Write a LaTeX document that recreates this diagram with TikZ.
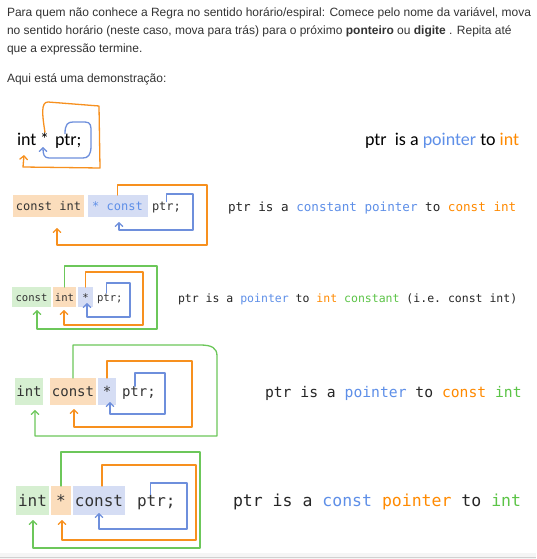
\documentclass[tikz,border=0pt]{standalone}
\usepackage{fontspec}
\setmainfont{Liberation Sans}
\setmonofont{DejaVu Sans Mono}
\newfontfamily\calibri{Carlito}
\usetikzlibrary{arrows.meta}

\definecolor{ink}{HTML}{333333}
\definecolor{oline}{HTML}{F7901E}
\definecolor{bline}{HTML}{6E8FDC}
\definecolor{gline}{HTML}{6CC75A}
\definecolor{ofill}{HTML}{FBDDBC}
\definecolor{bfill}{HTML}{D5DDF4}
\definecolor{gfill}{HTML}{D6EFD1}
\definecolor{otext}{HTML}{FF8A00}
\definecolor{btext}{HTML}{5E8FE8}
\definecolor{gtext}{HTML}{5CC447}

\newcommand{\ocol}[1]{\textcolor{otext}{#1}}
\newcommand{\bcol}[1]{\textcolor{btext}{#1}}
\newcommand{\gcol}[1]{\textcolor{gtext}{#1}}

\begin{document}
\begin{tikzpicture}[x=1pt,y=-1pt,
  every node/.style={inner sep=0pt,outer sep=0pt,text=ink},
  para/.style={anchor=base west,font=\fontsize{12}{14}\selectfont},
  wire/.style={line width=1.3pt,line cap=round,line join=round,
    -{Straight Barb[length=3.5pt,width=7.5pt,line cap=round]}},
  ow/.style={wire,draw=oline},
  bw/.style={wire,draw=bline},
  gw/.style={wire,draw=gline},
  ob/.style={fill=ofill},
  bb/.style={fill=bfill},
  gb/.style={fill=gfill},
  sans1/.style={anchor=base west,font=\calibri\fontsize{18}{20}\selectfont,text=black},
  c2/.style={font=\ttfamily\fontsize{12}{14}\selectfont,text height=9pt,text depth=0pt},
  c3/.style={font=\ttfamily\fontsize{10.6}{12}\selectfont,text height=8pt,text depth=0pt},
  c4/.style={font=\ttfamily\fontsize{14}{16}\selectfont,text height=10.5pt,text depth=0pt},
  c5/.style={font=\ttfamily\fontsize{16}{18}\selectfont,text height=12pt,text depth=0pt},
  desc/.style={anchor=base west,text=black!85}
]
\useasboundingbox (0,0) rectangle (536,559);
\fill[white] (0,0) rectangle (536,559);
\fill[black!4] (0,553) rectangle (536,559);
\draw[black!18,line width=1pt] (0,557.5) -- (536,557.5);

% introductory paragraph
\node[para] (l1) at (7,17) {Para quem não conhece a Regra no sentido horário/espiral: Comece pelo nome da variável, mova};
\node[para] (l2) at (7,35) {no sentido horário (neste caso, mova para trás) para o próximo \textbf{ponteiro} ou \textbf{digite} . Repita até};
\node[para] (l3) at (7,53) {que a expressão termine.};
\node[para] (l4) at (7,83) {Aqui está uma demonstração:};

% ---- int * ptr;
\node[sans1] (i1) at (17,145) {int};
\node[sans1] (s1) at (40,145) {*};
\node[sans1] (p1) at (55,145) {ptr;};
\node[sans1] (r1) at (365,146) {ptr\ \ is a \bcol{pointer} to \ocol{int}};
\coordinate (o1e) at (24,155);
\draw[ow] ([xshift=0.5pt]s1.north) .. controls (42,114) and (41,102) .. (48,102)
  -- (99,106) -- (100,168) -- (23,167) -- (o1e);
\draw[bw] ([xshift=10pt]p1.north west) .. controls (65,124) and (68,122) .. (73,122)
  -- (85,122) .. controls (91,122) and (91,126) .. (91,132)
  -- (91,146) .. controls (91,155) and (88,158) .. (83,158)
  -- (49,158) .. controls (44,158) and (43,154) .. (43,147);

% ---- const int * const ptr;
\node[c2,ob,minimum width=71pt,minimum height=22pt] (a2) at (48.5,206) {const int};
\node[c2,bb,minimum width=60pt,minimum height=22pt,text=btext] (b2) at (117.5,206) {* const};
\node[c2,anchor=west] (p2) at (152,206) {ptr;};
\node[desc,font=\ttfamily\fontsize{12.6}{14}\selectfont] (r2) at (228,211)
  {ptr is a \bcol{constant pointer} to \ocol{const int}};
\coordinate (o2t) at (207,185);
\coordinate (o2b) at (57,245);
\coordinate (o2e) at (57,228);
\coordinate (b2t) at (193,194);
\coordinate (b2b) at (119,230);
\coordinate (b2e) at (119,222);
\draw[ow] (b2.north) |- (o2t) |- (o2b) -- (o2e);
\draw[bw] (p2.north) |- (b2t) |- (b2b) -- (b2e);

% ---- const int * ptr;
\node[c3,gb,minimum width=39pt,minimum height=20pt] (a3) at (31.5,297) {const};
\node[c3,ob,minimum width=23pt,minimum height=20pt] (b3) at (64.5,297) {int};
\node[c3,bb,minimum width=15pt,minimum height=20pt] (c3) at (85.5,297) {*};
\node[c3,anchor=west] (p3) at (97,297) {ptr;};
\node[desc,font=\ttfamily\fontsize{11.5}{13}\selectfont] (r3) at (178,302)
  {ptr is a \bcol{pointer} to \ocol{int} \gcol{constant} (i.e. const int)};
\coordinate (g3t) at (157,266);
\coordinate (g3b) at (37,329);
\coordinate (g3e) at (37,310);
\coordinate (o3t) at (143,272);
\coordinate (o3b) at (64,325);
\coordinate (o3e) at (64,310);
\coordinate (b3t) at (130,283);
\coordinate (b3b) at (87,317);
\coordinate (b3e) at (87,303);
\draw[gw] (b3.north) |- (g3t) |- (g3b) -- (g3e);
\draw[ow] (c3.north) |- (o3t) |- (o3b) -- (o3e);
\draw[bw] ([xshift=-3pt]p3.north) |- (b3t) |- (b3b) -- (b3e);

% ---- int const * ptr;
\node[c4,gb,minimum width=28pt,minimum height=27pt] (a4) at (29,391.5) {int};
\node[c4,ob,minimum width=46pt,minimum height=27pt] (b4) at (73,391.5) {const};
\node[c4,bb,minimum width=18pt,minimum height=27pt] (c4) at (107,391.5) {*};
\node[c4,anchor=west] (p4) at (122,391.5) {ptr;};
\node[desc,font=\ttfamily\fontsize{14.7}{16}\selectfont] (r4) at (265,397)
  {ptr is a \bcol{pointer} to \ocol{const} \gcol{int}};
\coordinate (g4m) at (200,345);
\coordinate (g4r) at (217,356);
\coordinate (g4b) at (35,436);
\coordinate (g4e) at (35,410);
\coordinate (o4t) at (192,361);
\coordinate (o4b) at (74,427);
\coordinate (o4e) at (74,409);
\coordinate (b4t) at (165,373);
\coordinate (b4b) at (110,414);
\coordinate (b4e) at (110,402);
\draw[gw] (b4.north) |- (g4m) .. controls (212,345) and (217,348) .. (g4r) |- (g4b) -- (g4e);
\draw[ow] (c4.north) |- (o4t) |- (o4b) -- (o4e);
\draw[bw] ([xshift=-4pt]p4.north) |- (b4t) |- (b4b) -- (b4e);

% ---- int * const ptr;
\node[c5,gb,minimum width=33pt,minimum height=29pt] (a5) at (32.5,500.5) {int};
\node[c5,ob,minimum width=20pt,minimum height=29pt] (b5) at (61,500.5) {*};
\node[c5,bb,minimum width=52pt,minimum height=29pt] (c5) at (99,500.5) {const};
\node[c5,anchor=west] (p5) at (137,500.5) {ptr;};
\node[desc,font=\ttfamily\fontsize{16.5}{18}\selectfont] (r5) at (233,506)
  {ptr is a \bcol{const} \ocol{pointer} to \gcol{int}};
\coordinate (g5t) at (200,452);
\coordinate (g5b) at (33,548);
\coordinate (g5e) at (33,520);
\coordinate (o5t) at (196,465);
\coordinate (o5b) at (62,540);
\coordinate (o5e) at (62,520);
\coordinate (b5t) at (187,483);
\coordinate (b5b) at (99,529);
\coordinate (b5e) at (99,513);
\draw[gw] (b5.north) |- (g5t) |- (g5b) -- (g5e);
\draw[ow] ([xshift=3pt]c5.north) |- (o5t) |- (o5b) -- (o5e);
\draw[bw] ([xshift=-6pt]p5.north) |- (b5t) |- (b5b) -- (b5e);
\end{tikzpicture}
\end{document}
